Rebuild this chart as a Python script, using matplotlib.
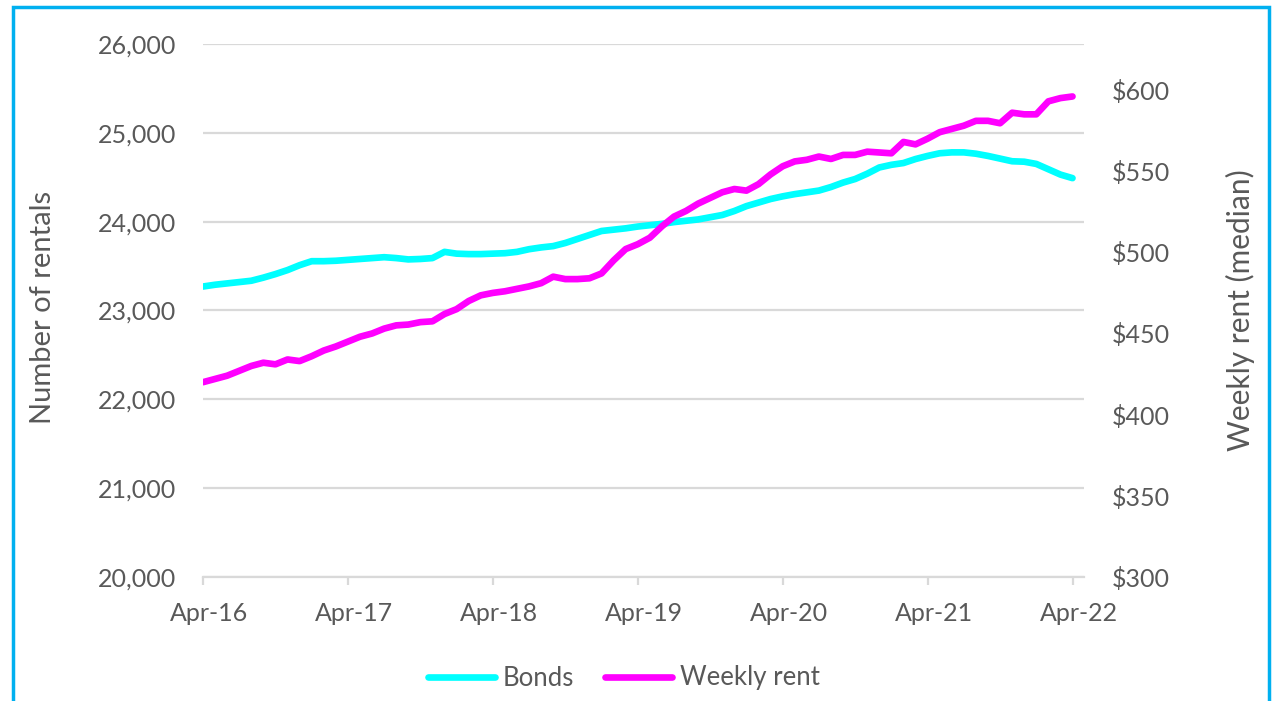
import matplotlib
matplotlib.use("Agg")
import matplotlib.pyplot as plt
import matplotlib.transforms as mtransforms
from matplotlib.patches import Rectangle
from matplotlib.lines import Line2D
from matplotlib.ticker import FuncFormatter, FixedLocator
import numpy as np

plt.rcParams['font.family'] = ['Lato', 'DejaVu Sans']

# Monthly data, Apr-16 .. Apr-22
bonds = [23270, 23290, 23305, 23320, 23335, 23370, 23410, 23455, 23510, 23555,
         23555, 23560, 23570, 23580, 23590, 23600, 23590, 23575, 23580, 23590,
         23660, 23640, 23635, 23635, 23640, 23645, 23660, 23690, 23710, 23725,
         23760, 23805, 23850, 23895, 23910, 23925, 23945, 23960, 23975, 23995,
         24010, 24025, 24050, 24075, 24120, 24175, 24215, 24255, 24285, 24310,
         24330, 24350, 24390, 24440, 24480, 24540, 24610, 24640, 24660, 24705,
         24740, 24770, 24780, 24780, 24765, 24740, 24710, 24680, 24675, 24650,
         24590, 24530, 24490]
weekly_rent = [420, 422, 424, 427, 430, 432, 431, 434, 433, 436,
               439.5, 442, 445, 448, 450, 453, 455, 455.5, 457, 457.5,
               462, 465, 470, 473.5, 475, 476, 477.5, 479, 481, 485,
               483.5, 483.5, 484, 487, 495, 502, 505, 509, 516, 522,
               525.5, 530, 533.5, 537, 539, 538, 542, 548, 553, 556,
               557, 559, 557.5, 560, 560, 562, 561.5, 561, 568, 566.5,
               570, 574, 576, 578, 581, 581, 579.5, 586, 585, 585,
               593, 595, 596]
tick_labels = ['Apr-16', 'Apr-17', 'Apr-18', 'Apr-19', 'Apr-20', 'Apr-21', 'Apr-22']
left_ticks = [20000, 21000, 22000, 23000, 24000, 25000, 26000]
right_ticks = [300, 350, 400, 450, 500, 550, 600]

TXT = '#595959'
GRID = '#D9D9D9'

fig = plt.figure(figsize=(12.86, 7.01), dpi=100)
W, H = 1286, 701
ax = fig.add_axes([203 / W, 1 - 577 / H, (1084 - 203) / W, (577 - 44) / H])
ax2 = ax.twinx()

x = np.arange(len(bonds))
ax.plot(x, bonds, color='#00FFFF', lw=4.8, solid_capstyle='round', solid_joinstyle='round', zorder=3)
ax2.plot(x, weekly_rent, color='#FF00FF', lw=4.8, solid_capstyle='round', solid_joinstyle='round', zorder=3)

ax.set_xlim(0, 72.95)
ax.set_ylim(20000, 26000)
ax2.set_ylim(300, 300 + 533 / 81.17 * 50)

ax.yaxis.set_major_locator(FixedLocator(left_ticks))
ax2.yaxis.set_major_locator(FixedLocator(right_ticks))
ax.yaxis.set_major_formatter(FuncFormatter(lambda v, p: f'{int(v):,}'))
ax2.yaxis.set_major_formatter(FuncFormatter(lambda v, p: f'${int(v)}'))

ax.set_xticks(np.arange(0, len(bonds), 12))
ax.set_xticklabels(tick_labels)

ax.grid(axis='y', color=GRID, lw=1.6)
ax.set_axisbelow(True)
for a in (ax, ax2):
    for s in a.spines.values():
        s.set_visible(False)
ax.spines['bottom'].set_visible(True)
ax.spines['bottom'].set_color(GRID)
ax.spines['bottom'].set_linewidth(1.6)

ax.tick_params(axis='y', length=0, pad=19, labelsize=18, labelcolor=TXT)
ax2.tick_params(axis='y', length=0, pad=20, labelsize=18, labelcolor=TXT)
ax.tick_params(axis='x', length=6, width=1.6, color=GRID, pad=12, labelsize=18, labelcolor=TXT)
off = mtransforms.ScaledTranslation(6 / 100, 0, fig.dpi_scale_trans)
for lab in ax.get_xticklabels():
    lab.set_transform(lab.get_transform() + off)

fig.text(43 / W, 1 - 307 / H, 'Number of rentals', rotation=90, ha='center', va='center',
         fontsize=21, color=TXT)
fig.text(1240 / W, 1 - 310 / H, 'Weekly rent (median)', rotation=90, ha='center', va='center',
         fontsize=21.5, color=TXT)

handles = [Line2D([], [], color='#00FFFF', lw=4.8, solid_capstyle='round'),
           Line2D([], [], color='#FF00FF', lw=4.8, solid_capstyle='round')]
fig.legend(handles, ['Bonds', 'Weekly rent'], loc='center', bbox_to_anchor=(624 / W, 1 - 678 / H),
           ncol=2, frameon=False, fontsize=18.5, handlelength=2.6, handletextpad=0.3,
           columnspacing=1.2, labelcolor=TXT)

fig.patches.append(Rectangle((13 / W, -0.05), (1269 - 13) / W, 1.05 - 7 / H,
                             transform=fig.transFigure, fill=False, ec='#00B0F0', lw=2.5))

fig.savefig('out.png', dpi=100)
